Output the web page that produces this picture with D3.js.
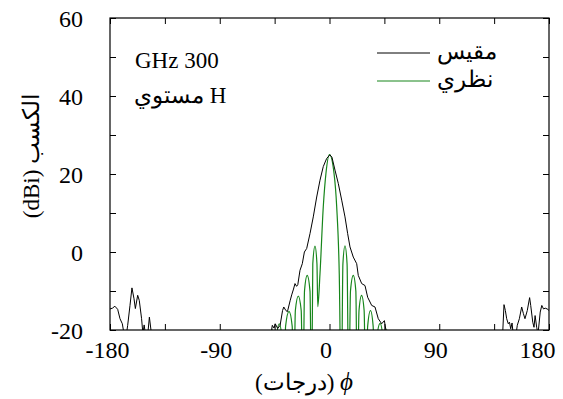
<!DOCTYPE html>
<html><head><meta charset="utf-8">
<script src="https://cdn.jsdelivr.net/npm/d3@7"></script>
<style>
body{margin:0;background:#fff;}
svg{display:block;}
text{font-family:"Liberation Serif","Times New Roman","DejaVu Serif",serif;fill:#000;}
</style></head>
<body>
<svg id="chart" width="563" height="399"></svg>
<script>
// ---- data ----
const xTicks = [-180,-135,-90,-45,0,45,90,135,180];
const xTickLabels = ["-180","","-90","","0","","90","","180"];
const yTicks = [-20,-10,0,10,20,30,40,50,60];
const yTickLabels = ["-20","","0","","20","","40","","60"];

const measuredPhi = [-180,-178,-176,-173.7,-171.8,-169.9,-168.5,-166.5,-165.5,-163.6,-162,-160.3,-159.2,-157.3,-156,-154.1,-153,-152,-151,-149,-147.7,-146,-140,-100,-60,-48,-46.9,-45.5,-44.5,-42.5,-40.5,-38.5,-37.5,-35.8,-34.5,-32.3,-31,-29.5,-28.3,-27,-26,-24.2,-22.3,-20.6,-18.7,-16,-13.3,-10.5,-7.8,-5.1,-2.3,0.3,2,4.5,7.2,10,12.7,14.9,16.8,19.5,22.3,23.6,26.4,29.1,31.3,34.6,37.3,40,42.8,45,46.5,48,80,120,142,143.1,144.2,145.3,146.6,147.6,148.6,149.7,150.6,153,154,155.7,157.6,159,160.3,162.2,164.1,165,166.7,167.7,168.6,169.9,171,172.8,174.1,175.5,176.9,178.5,180];
const measuredGain = [-14.6,-14.4,-13.9,-14.7,-17.1,-18.4,-21,-21,-18.8,-13.7,-9.2,-12,-14.5,-11.1,-12.4,-17.1,-21,-18.7,-21,-21,-16.7,-21,-25,-25,-25,-21,-18.8,-19.5,-18.4,-19.6,-18.8,-15,-14.1,-15,-15.3,-12.5,-11,-9.5,-8.1,-8.8,-8.4,-4.7,-3.0,0.0,0.9,4.7,9.0,14.1,18.4,21.9,24.0,24.9,24.3,21,17.6,13.3,9.0,4.7,1.3,-1.3,-3.0,-6.0,-8.1,-8.6,-11.6,-13.7,-14.1,-17.1,-18.4,-17.6,-20.5,-25,-25,-25,-21,-13.5,-15,-17.1,-18.4,-18.0,-19.7,-18.2,-21,-21,-18.8,-17.1,-14.1,-15.8,-17.1,-15,-11.7,-13.7,-18,-19.3,-16.3,-19.3,-21,-15.4,-13.7,-14.6,-14.4,-14.6,-15];

const theoryPhi = [-50,-48.2,-46.6,-45,-43.5,-41.2,-39,-37.5,-36,-33.2,-30.6,-29.4,-28,-25.6,-23.2,-21.8,-20.5,-18.3,-16,-14.7,-13.7,-11.9,-10.3,-9.6,-7.8,-5.1,-2.9,0,3.7,5.9,8,9.7,11,12.7,14.4,15.8,17.2,19.5,21.6,22.8,24.2,26.3,28.4,29.8,31.3,33.6,35.8,37.2,38.8,41.5,43.8,45.3,47,48.6,50];
const theoryGain = [-40,-40,-19.8,-40,-22,-18.4,-22,-40,-19,-15.2,-19,-40,-15,-11.3,-15,-40,-10,-6,-10,-40,-3,1.5,-3,-14,-5.6,11.6,20.2,25,20.2,11.6,-5.6,-40,-3,1.6,-3,-40,-10,-6,-10,-40,-15,-11.1,-15,-40,-19,-15.0,-19,-40,-22,-18.3,-22,-40,-19.8,-40,-40];

const legendLabels = ["مقيس","نظري"];
const seriesColors = ["#000000","#16851a"];

// ---- layout ----
const svg = d3.select("#chart");
const x = d3.scaleLinear().domain([-180,180]).range([110,549]);
const y = d3.scaleLinear().domain([-20,60]).range([330,18]);

svg.append("clipPath").attr("id","plotclip").append("rect")
  .attr("x",110).attr("y",18).attr("width",439).attr("height",312);

const lineM = d3.line().x(d=>x(d[0])).y(d=>y(d[1]));
const lineT = d3.line().x(d=>x(d[0])).y(d=>y(d[1])).curve(d3.curveMonotoneX);

const gPlot = svg.append("g").attr("clip-path","url(#plotclip)");
gPlot.append("path")
  .datum(theoryPhi.map((p,i)=>[p,theoryGain[i]]))
  .attr("d",lineT).attr("fill","none").attr("stroke",seriesColors[1]).attr("stroke-width",1.2);
gPlot.append("path")
  .datum(measuredPhi.map((p,i)=>[p,measuredGain[i]]))
  .attr("d",lineM).attr("fill","none").attr("stroke",seriesColors[0]).attr("stroke-width",1).attr("stroke-linejoin","round");

// axes
const fmtX = d => xTickLabels[xTicks.indexOf(d)];
const fmtY = d => yTickLabels[yTicks.indexOf(d)];
const ax = (g)=>{g.select(".domain").remove(); g.selectAll(".tick line").attr("stroke","#000").attr("stroke-width",1);};

svg.append("g").attr("transform","translate(0,330)")
  .call(d3.axisBottom(x).tickValues(xTicks).tickSize(-6).tickFormat(fmtX))
  .call(ax)
  .call(g=>g.selectAll("text").attr("y",28).attr("dy",0).style("font-size","24px")
     .attr("x",d=> d===180 ? -12 : (d===-180 ? -3 : -4)))
  .attr("font-family",null);
svg.append("g").attr("transform","translate(0,18)")
  .call(d3.axisTop(x).tickValues(xTicks).tickSize(-6).tickFormat(""))
  .call(ax);
svg.append("g").attr("transform","translate(110,0)")
  .call(d3.axisLeft(y).tickValues(yTicks).tickSize(-6).tickFormat(fmtY))
  .call(ax)
  .call(g=>g.selectAll("text").attr("x",-27).attr("dy","0.34em").style("font-size","24px"))
  .attr("font-family",null);
svg.append("g").attr("transform","translate(549,0)")
  .call(d3.axisRight(y).tickValues(yTicks).tickSize(-6).tickFormat(""))
  .call(ax);

svg.append("rect").attr("x",110).attr("y",18).attr("width",439).attr("height",312)
  .attr("fill","none").attr("stroke","#000").attr("stroke-width",1.2);

// axis titles
const xt = svg.append("text").attr("x",304).attr("y",390).attr("text-anchor","middle")
  .attr("direction","ltr").style("font-size","23px");
xt.append("tspan").text("(درجات) ");
xt.append("tspan").style("font-style","italic").style("font-size","25px").text("ϕ");

svg.append("text").attr("transform","translate(39,156) rotate(-90)")
  .attr("text-anchor","middle").attr("direction","ltr").style("font-size","23px").text("(dBi) الكسب");

// annotations
svg.append("text").attr("x",135).attr("y",68).style("font-size","23px").text("GHz 300");
svg.append("text").attr("x",134).attr("y",103).attr("direction","ltr").style("unicode-bidi","embed")
  .style("font-size","23px").text("\u200Eمستوي H");

// legend
const leg = svg.append("g");
legendLabels.forEach((lab,i)=>{
  const yy = 53 + i*28;
  leg.append("line").attr("x1",377).attr("x2",430).attr("y1",yy).attr("y2",yy)
    .attr("stroke",seriesColors[i]).attr("stroke-width",1);
  leg.append("text").attr("x",437).attr("y",yy+6).style("font-size","23px").text(lab);
});
</script>
</body></html>
